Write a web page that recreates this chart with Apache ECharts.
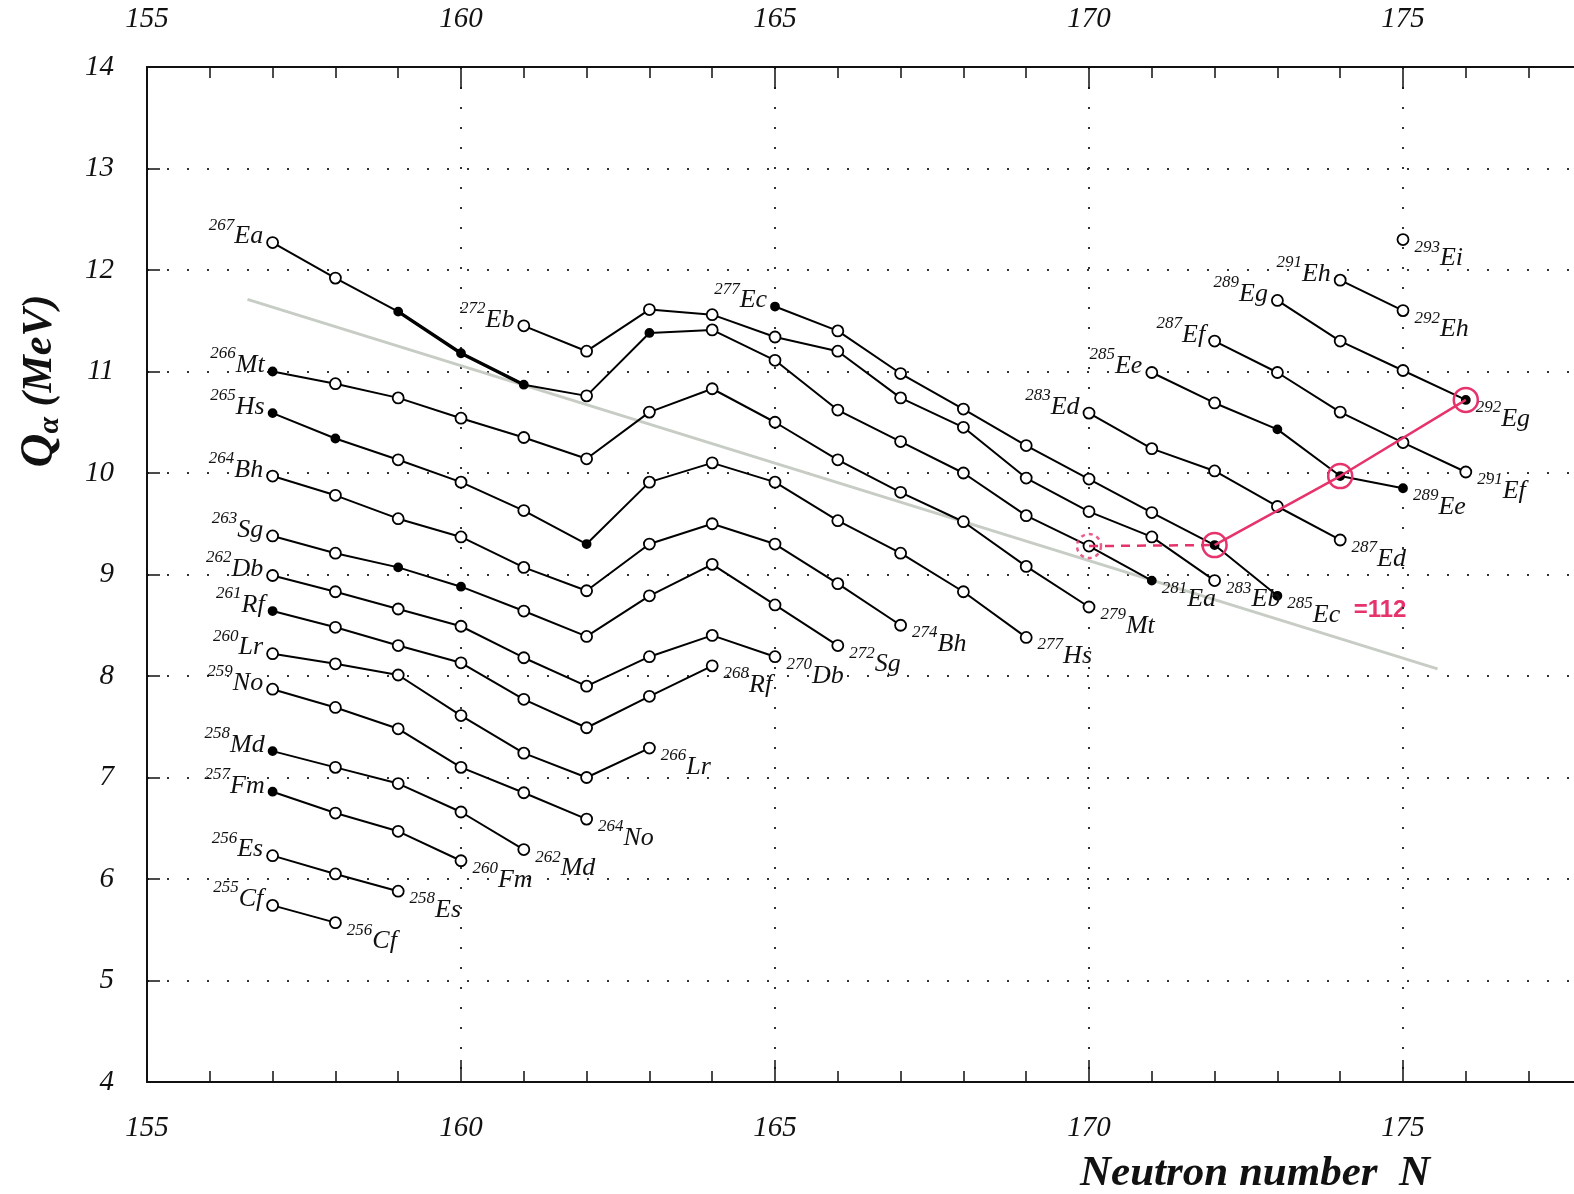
<!DOCTYPE html>
<html>
<head>
<meta charset="utf-8">
<script src="https://cdn.jsdelivr.net/npm/echarts@6/dist/echarts.min.js"></script>
<style>
    html, body { margin: 0; padding: 0; background: #fff; }
    #chart { width: 1574px; height: 1194px; }
</style>
</head>
<body>
<div id="chart"></div>
<script>
// element chains: symbol, Z, first neutron number
const elementSymbols = ['Cf', 'Es', 'Fm', 'Md', 'No', 'Lr', 'Rf', 'Db', 'Sg', 'Bh', 'Hs', 'Mt', 'Ea', 'Eb', 'Ec', 'Ed', 'Ee', 'Ef', 'Eg', 'Eh', 'Ei']
const protonZ = [98, 99, 100, 101, 102, 103, 104, 105, 106, 107, 108, 109, 110, 111, 112, 113, 114, 115, 116, 117, 118]
const startN = [157, 157, 157, 157, 157, 157, 157, 157, 157, 157, 157, 157, 157, 161, 165, 170, 171, 172, 173, 174, 175]

// Q alpha (MeV), one value per neutron number from startN
const qCf = [5.74, 5.57]
const qEs = [6.23, 6.05, 5.88]
const qFm = [6.86, 6.65, 6.47, 6.18]
const qMd = [7.26, 7.10, 6.94, 6.66, 6.29]
const qNo = [7.87, 7.69, 7.48, 7.10, 6.85, 6.59]
const qLr = [8.22, 8.12, 8.01, 7.61, 7.24, 7.00, 7.29]
const qRf = [8.64, 8.48, 8.30, 8.13, 7.77, 7.49, 7.80, 8.10]
const qDb = [8.99, 8.83, 8.66, 8.49, 8.18, 7.90, 8.19, 8.40, 8.19]
const qSg = [9.38, 9.21, 9.07, 8.88, 8.64, 8.39, 8.79, 9.10, 8.70, 8.30]
const qBh = [9.97, 9.78, 9.55, 9.37, 9.07, 8.84, 9.30, 9.50, 9.30, 8.91, 8.50]
const qHs = [10.59, 10.34, 10.13, 9.91, 9.63, 9.30, 9.91, 10.10, 9.91, 9.53, 9.21, 8.83, 8.38]
const qMt = [11.00, 10.88, 10.74, 10.54, 10.35, 10.14, 10.60, 10.83, 10.50, 10.13, 9.81, 9.52, 9.08, 8.68]
const qEa = [12.27, 11.92, 11.59, 11.18, 10.87, 10.76, 11.38, 11.41, 11.11, 10.62, 10.31, 10.00, 9.58, 9.28, 8.94]
const qEb = [11.45, 11.20, 11.61, 11.56, 11.34, 11.20, 10.74, 10.45, 9.95, 9.62, 9.37, 8.94]
const qEc = [11.64, 11.40, 10.98, 10.63, 10.27, 9.94, 9.61, 9.29, 8.79]
const qEd = [10.59, 10.24, 10.02, 9.67, 9.34]
const qEe = [10.99, 10.69, 10.43, 9.97, 9.85]
const qEf = [11.30, 10.99, 10.60, 10.30, 10.01]
const qEg = [11.70, 11.30, 11.01, 10.72]
const qEh = [11.90, 11.60]
const qEi = [12.30]
const chainQ = [qCf, qEs, qFm, qMd, qNo, qLr, qRf, qDb, qSg, qBh, qHs, qMt, qEa, qEb, qEc, qEd, qEe, qEf, qEg, qEh, qEi]

// solid (black) points: [symbol, N]
const filledPoints = [
    ['Fm', 157], ['Md', 157], ['Rf', 157], ['Sg', 159], ['Sg', 160],
    ['Hs', 157], ['Hs', 158], ['Hs', 162], ['Mt', 157],
    ['Ea', 159], ['Ea', 160], ['Ea', 161], ['Ea', 163], ['Ea', 171],
    ['Ec', 165], ['Ec', 172], ['Ec', 173],
    ['Ee', 173], ['Ee', 174], ['Ee', 175], ['Eg', 176]
]

// grey guide line and the pink hand annotation
const trendN = [156.6, 175.55]
const trendQ = [11.71, 8.07]
const pinkN = [172, 174, 176]
const pinkQ = [9.29, 9.97, 10.72]
const pinkDashN = [170, 172]
const pinkDashQ = [9.28, 9.29]

const xTicks = [155, 160, 165, 170, 175]

const SERIF = 'Liberation Serif'
const PINK = '#e6336c'

const chart = echarts.init(document.getElementById('chart'))

const rich = {
    s: { fontSize: 17, fontFamily: SERIF, fontStyle: 'italic', color: '#111', verticalAlign: 'top' },
    e: { fontSize: 26, fontFamily: SERIF, fontStyle: 'italic', color: '#111', lineHeight: 40 }
}

const series = []

// grey guide
series.push({
    type: 'line',
    data: trendN.map((n, i) => [n, trendQ[i]]),
    symbol: 'none',
    lineStyle: { color: '#c7ccc4', width: 3 },
    z: 1,
    silent: true
})

// bold part of the Ea chain
series.push({
    type: 'line',
    data: qEa.slice(2, 5).map((v, i) => [159 + i, v]),
    symbol: 'none',
    lineStyle: { color: '#000', width: 3.4 },
    z: 2,
    silent: true
})

elementSymbols.forEach((sym, c) => {
    const q = chainQ[c]
    const n0 = startN[c]
    const data = q.map((v, i) => {
        const n = n0 + i
        const a = protonZ[c] + n
        const item = { value: [n, v] }
        if (filledPoints.some(p => p[0] === sym && p[1] === n)) {
            item.symbolSize = 8
            item.itemStyle = { color: '#000', borderColor: '#000' }
        }
        const text = '{s|' + a + '}{e|' + sym + '}'
        if (i === 0 && q.length > 1) {
            item.label = { show: true, position: 'left', distance: 3, offset: [0, -6], formatter: () => text }
        }
        if (i === q.length - 1) {
            item.label = { show: true, position: 'right', distance: 5, offset: [0, 19], formatter: () => text }
        }
        return item
    })
    series.push({
        name: sym,
        type: 'line',
        data: data,
        symbol: 'circle',
        symbolSize: 11,
        itemStyle: { color: '#fff', borderColor: '#000', borderWidth: 1.8 },
        lineStyle: { color: '#000', width: 2 },
        label: { show: false, rich: rich },
        z: 3,
        silent: true
    })
})

// pink annotation
series.push({
    type: 'line',
    data: pinkN.map((n, i) => [n, pinkQ[i]]),
    symbol: 'circle',
    symbolSize: 24,
    itemStyle: { color: 'rgba(0,0,0,0)', borderColor: PINK, borderWidth: 2.5 },
    lineStyle: { color: PINK, width: 2.5 },
    z: 4,
    silent: true
})
series.push({
    type: 'line',
    data: pinkDashN.map((n, i) => [n, pinkDashQ[i]]),
    symbol: 'none',
    lineStyle: { color: PINK, width: 2.5, type: [9, 7] },
    z: 4,
    silent: true
})
series.push({
    type: 'scatter',
    data: [[pinkDashN[0], pinkDashQ[0]]],
    symbol: 'circle',
    symbolSize: 24,
    itemStyle: { color: 'rgba(0,0,0,0)', borderColor: PINK, borderWidth: 2.5, borderType: [4, 4] },
    z: 4,
    silent: true
})

const tickLabel = {
    fontSize: 29,
    fontFamily: SERIF,
    fontStyle: 'italic',
    color: '#111'
}

const option = {
    backgroundColor: '#fff',
    animation: false,
    grid: {
        left: 147,
        top: 67,
        right: -143,
        bottom: 112,
        containLabel: false,
        outerBoundsMode: 'none'
    },
    xAxis: [
        {
            type: 'value',
            position: 'bottom',
            min: 155,
            max: 180,
            interval: 5,
            axisLine: { onZero: false, lineStyle: { color: '#111', width: 2 } },
            axisTick: { inside: true, length: 22, lineStyle: { color: '#111', width: 1.5 } },
            minorTick: { show: true, splitNumber: 5, length: 11, lineStyle: { color: '#111', width: 1.5 } },
            axisLabel: Object.assign({ margin: 32, formatter: v => xTicks.includes(v) ? String(v) : '' }, tickLabel),
            splitLine: { show: true, lineStyle: { color: '#333', width: 2, type: [2, 18] } }
        },
        {
            type: 'value',
            position: 'top',
            min: 155,
            max: 180,
            interval: 5,
            axisLine: { onZero: false, lineStyle: { color: '#111', width: 2 } },
            axisTick: { inside: true, length: 22, lineStyle: { color: '#111', width: 1.5 } },
            minorTick: { show: true, splitNumber: 5, length: 11, lineStyle: { color: '#111', width: 1.5 } },
            axisLabel: Object.assign({ margin: 33, formatter: v => xTicks.includes(v) ? String(v) : '' }, tickLabel),
            splitLine: { show: false }
        }
    ],
    yAxis: {
        type: 'value',
        min: 4,
        max: 14,
        interval: 1,
        axisLine: { show: true, onZero: false, lineStyle: { color: '#111', width: 2 } },
        axisTick: { show: true, inside: true, length: 13, lineStyle: { color: '#111', width: 1.5 } },
        axisLabel: Object.assign({ margin: 33 }, tickLabel),
        splitLine: { show: true, lineStyle: { color: '#333', width: 2, type: [2, 18] } }
    },
    graphic: [
        {
            type: 'text',
            x: 40,
            y: 381,
            rotation: Math.PI / 2,
            style: {
                text: '{q|Q}{a|α}{t| (MeV)}',
                align: 'center',
                verticalAlign: 'middle',
                rich: {
                    q: { fontSize: 47, fontFamily: SERIF, fontStyle: 'italic', fontWeight: 'bold', fill: '#111', lineHeight: 50 },
                    a: { fontSize: 30, fontFamily: SERIF, fontStyle: 'italic', fontWeight: 'bold', fill: '#111', verticalAlign: 'bottom' },
                    t: { fontSize: 42, fontFamily: SERIF, fontStyle: 'italic', fontWeight: 'bold', fill: '#111' }
                }
            }
        },
        {
            type: 'text',
            x: 1080,
            y: 1174,
            style: {
                text: 'Neutron number  N',
                font: 'italic bold 43px "Liberation Serif"',
                fill: '#111',
                align: 'left',
                verticalAlign: 'middle'
            }
        },
        {
            type: 'text',
            x: 1380,
            y: 610,
            style: {
                text: '=112',
                font: 'bold 24px "Liberation Sans"',
                fill: PINK,
                align: 'center',
                verticalAlign: 'middle'
            }
        }
    ],
    series: series
}

chart.setOption(option)
</script>
</body>
</html>
